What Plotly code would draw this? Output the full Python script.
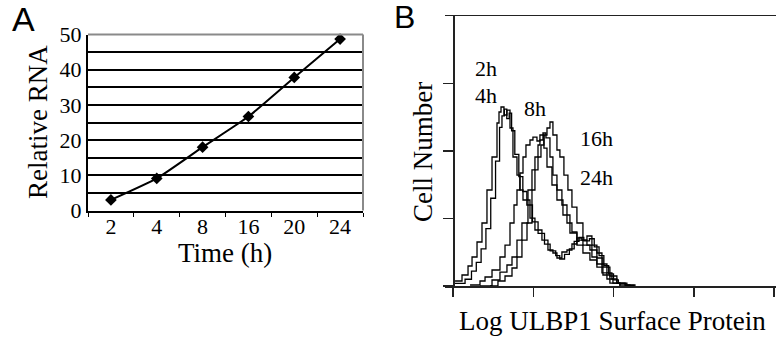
import plotly.graph_objects as go

W, H = 776, 337

# ---------------- Panel A data ----------------
time_labels = ["2", "4", "8", "16", "20", "24"]
relative_rna = [3.0, 9.1, 18.0, 26.7, 37.8, 48.7]

# ---------------- Panel B data (log decades, relative cell number) ----------------
h2_x = [0.025, 0.112, 0.187, 0.237, 0.299, 0.361, 0.423, 0.486, 0.548, 0.573, 0.598, 0.635, 0.672, 0.710,
        0.747, 0.797, 0.834, 0.872, 0.959, 1.021, 1.108, 1.183, 1.245, 1.295, 1.357, 1.420, 1.482, 1.544,
        1.606, 1.669, 1.731, 1.793, 1.856, 1.918, 1.980, 2.042, 2.142, 2.267]
h2_y = [0.074, 0.163, 0.296, 0.430, 0.652, 0.933, 1.422, 1.911, 2.415, 2.578, 2.652, 2.533, 2.607, 2.341,
        1.911, 1.644, 1.422, 1.274, 1.007, 0.830, 0.681, 0.533, 0.489, 0.415, 0.504, 0.533, 0.622, 0.711,
        0.681, 0.741, 0.607, 0.489, 0.326, 0.193, 0.104, 0.044, 0.015, 0.0]

h4_x = [0.02, 0.15, 0.23, 0.29, 0.35, 0.41, 0.47, 0.53, 0.58, 0.61, 0.64, 0.67, 0.70, 0.73, 0.77, 0.82,
        0.87, 0.92, 0.99, 1.06, 1.14, 1.21, 1.28, 1.33, 1.39, 1.45, 1.51, 1.57, 1.63, 1.70, 1.76, 1.82,
        1.88, 1.94, 2.00, 2.06, 2.15, 2.25]
h4_y = [0.04, 0.10, 0.22, 0.35, 0.55, 0.85, 1.30, 1.85, 2.35, 2.52, 2.62, 2.48, 2.56, 2.30, 1.95, 1.62,
        1.40, 1.20, 0.95, 0.78, 0.62, 0.52, 0.45, 0.40, 0.47, 0.55, 0.66, 0.72, 0.67, 0.70, 0.58, 0.45,
        0.30, 0.18, 0.09, 0.04, 0.01, 0.0]

h8_x = [0.212, 0.336, 0.399, 0.486, 0.585, 0.648, 0.710, 0.760, 0.797, 0.834, 0.872, 0.909, 0.959, 0.996,
        1.046, 1.083, 1.133, 1.171, 1.233, 1.295, 1.370, 1.457, 1.544, 1.619, 1.706, 1.793, 1.868, 1.955, 2.080]
h8_y = [0.015, 0.074, 0.133, 0.237, 0.430, 0.607, 0.933, 1.200, 1.422, 1.674, 1.911, 2.089, 2.163, 2.207,
        2.148, 2.237, 2.044, 1.763, 1.496, 1.274, 1.052, 0.785, 0.607, 0.489, 0.385, 0.281, 0.163, 0.044, 0.0]

h16_x = [0.336, 0.486, 0.585, 0.672, 0.735, 0.797, 0.859, 0.934, 0.984, 1.021, 1.059, 1.083, 1.121, 1.158,
         1.208, 1.245, 1.295, 1.357, 1.420, 1.482, 1.544, 1.619, 1.706, 1.793, 1.868, 1.955, 2.042, 2.167]
h16_y = [0.0, 0.089, 0.207, 0.311, 0.430, 0.681, 0.933, 1.422, 1.719, 1.911, 2.089, 2.163, 2.267, 2.193,
         1.911, 1.644, 1.422, 1.200, 0.933, 0.800, 0.681, 0.607, 0.533, 0.415, 0.281, 0.148, 0.044, 0.0]

h24_x = [0.461, 0.560, 0.648, 0.735, 0.797, 0.859, 0.922, 0.984, 1.021, 1.059, 1.096, 1.133, 1.171, 1.208,
         1.245, 1.295, 1.332, 1.382, 1.432, 1.482, 1.544, 1.619, 1.669, 1.731, 1.793, 1.856, 1.918, 1.993,
         2.080, 2.204]
h24_y = [0.0, 0.074, 0.148, 0.267, 0.430, 0.681, 0.933, 1.422, 1.719, 1.911, 2.089, 2.237, 2.341, 2.430,
         2.237, 2.015, 1.911, 1.644, 1.422, 1.170, 0.933, 0.681, 0.607, 0.430, 0.326, 0.193, 0.104, 0.044,
         0.015, 0.0]

series_b = [("2h", h2_x, h2_y), ("4h", h4_x, h4_y), ("8h", h8_x, h8_y),
            ("16h", h16_x, h16_y), ("24h", h24_x, h24_y)]

SERIF = "Liberation Serif, Times New Roman, serif"
SANS = "Liberation Sans, Arial, sans-serif"


def px(x):
    return x / W


def py(y):
    return 1 - y / H


fig = go.Figure()

# Panel A
fig.add_trace(go.Scatter(
    x=time_labels, y=relative_rna, mode="lines+markers",
    line=dict(color="black", width=2, shape="spline", smoothing=0.5),
    marker=dict(symbol="diamond", size=9, color="black"),
    xaxis="x", yaxis="y", showlegend=False, cliponaxis=False))

# Panel B
for name, xs, ys in series_b:
    fig.add_trace(go.Scatter(
        x=xs, y=ys, mode="lines", name=name,
        line=dict(color="black", width=1.3, shape="hv"),
        xaxis="x2", yaxis="y2", showlegend=False))

xa2_dom = [445 / W, 1.0]
xa2_rng = [-0.1, 4.025]
ypos2 = xa2_dom[0] + (0 - xa2_rng[0]) / (xa2_rng[1] - xa2_rng[0]) * (xa2_dom[1] - xa2_dom[0])

fig.update_layout(
    template="none",
    width=W, height=H, autosize=False, showlegend=False,
    margin=dict(l=0, r=0, t=0, b=0, pad=0),
    paper_bgcolor="white", plot_bgcolor="white",
    xaxis=dict(domain=[88 / W, 363 / W], anchor="y", type="category", automargin=False,
               range=[-0.5, 5.5], showgrid=False, zeroline=False,
               showline=True, linecolor="black", linewidth=2,
               ticks="outside", tickson="boundaries", ticklen=4, tickcolor="black",
               ticklabelstandoff=-5,
               tickfont=dict(family=SERIF, size=22, color="black")),
    yaxis=dict(domain=[py(210.5), py(34.5)], anchor="x", range=[0, 50], automargin=False,
               dtick=10, showgrid=True, gridcolor="black", gridwidth=2,
               minor=dict(dtick=5, showgrid=True, gridcolor="black", gridwidth=2),
               zeroline=False, showline=True, linecolor="black", linewidth=2,
               ticks="", tickfont=dict(family=SERIF, size=22, color="black")),
    xaxis2=dict(domain=xa2_dom, anchor="y2", range=xa2_rng, automargin=False,
                tickvals=[0, 1, 2, 3, 4], showticklabels=False,
                showgrid=False, zeroline=False, showline=True, mirror=True,
                linecolor="#222", linewidth=1.5, ticks="outside", ticklen=9,
                tickcolor="#222", tickwidth=1.5),
    yaxis2=dict(domain=[py(286), py(16)], anchor="free", position=ypos2, automargin=False,
                range=[0, 4], tickvals=[0, 1, 2, 3], showticklabels=False,
                showgrid=False, zeroline=False, showline=True,
                linecolor="#222", linewidth=1.5, ticks="outside", ticklen=10,
                tickcolor="#222", tickwidth=1.5),
)

# gray top/right border of panel A
fig.add_shape(type="line", xref="paper", yref="paper", x0=px(88), x1=px(363),
              y0=py(34.5), y1=py(34.5), line=dict(color="#8a8a8a", width=2), layer="above")
fig.add_shape(type="line", xref="paper", yref="paper", x0=px(363), x1=px(363),
              y0=py(34.5), y1=py(210.5), line=dict(color="#8a8a8a", width=2), layer="above")

ann = [
    dict(text="A", x=px(23), y=py(19), font=dict(family=SANS, size=34)),
    dict(text="B", x=px(404), y=py(17), font=dict(family=SANS, size=32)),
    dict(text="Relative RNA", x=px(38), y=py(122), textangle=-90, font=dict(family=SERIF, size=27)),
    dict(text="Time (h)", x=px(225), y=py(253), font=dict(family=SERIF, size=27)),
    dict(text="Cell Number", x=px(423), y=py(152), textangle=-90, font=dict(family=SERIF, size=27)),
    dict(text="Log ULBP1 Surface Protein", x=px(612), y=py(321), font=dict(family=SERIF, size=27)),
    dict(text="2h", x=px(486), y=py(69), font=dict(family=SERIF, size=22)),
    dict(text="4h", x=px(486), y=py(95), font=dict(family=SERIF, size=22)),
    dict(text="8h", x=px(535), y=py(109), font=dict(family=SERIF, size=22)),
    dict(text="16h", x=px(596), y=py(139), font=dict(family=SERIF, size=22)),
    dict(text="24h", x=px(596), y=py(177), font=dict(family=SERIF, size=22)),
]
for a in ann:
    a.setdefault("textangle", 0)
    a["font"]["color"] = "black"
    fig.add_annotation(xref="paper", yref="paper", xanchor="center", yanchor="middle",
                       showarrow=False, **a)

fig.write_html("out.html",
               config={"displayModeBar": False, "staticPlot": True},
               post_script="document.body.style.margin='0';document.body.style.overflow='hidden';")
